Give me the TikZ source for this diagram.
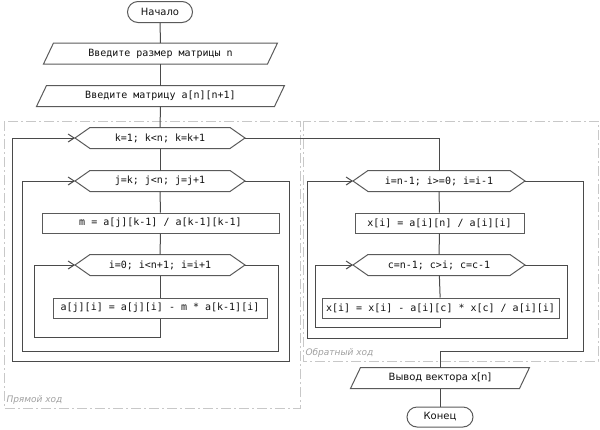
\documentclass[tikz,border=0pt]{standalone}
\usepackage{fontspec}
\setmainfont{DejaVu Sans}
\newfontfamily\codefont{DejaVu Sans Mono}
\usetikzlibrary{shapes.misc,arrows.meta}
\definecolor{linec}{HTML}{4A4A4A}
\definecolor{boxc}{HTML}{5A5A5A}
\definecolor{regc}{HTML}{C8C8C8}
\definecolor{labc}{HTML}{A0A0A0}
\definecolor{txtc}{HTML}{101010}
\begin{document}
\begin{tikzpicture}[x=1pt,y=-1pt,line width=1pt,
  codebox/.style={draw=boxc, minimum height=20pt, inner sep=0pt, text=txtc,
     font=\codefont\fontsize{10}{12}\selectfont},
  shapeonly/.style={minimum height=20pt, inner sep=0pt, text=txtc,
     font=\codefont\fontsize{10}{12}\selectfont},
  term/.style={draw=boxc, rounded rectangle, minimum height=21pt, inner sep=0pt,
     text=txtc, font=\fontsize{10}{12}\selectfont},
  outline/.style={draw=boxc},
  flow/.style={draw=linec},
  loopback/.style={draw=linec, -{Straight Barb[length=6pt,width=8pt]}},
  region/.style={draw=regc, line width=0.8pt, dash pattern=on 10pt off 3pt on 2pt off 3pt},
  reglabel/.style={text=labc, font=\itshape\fontsize{9}{11}\selectfont, inner sep=0pt, anchor=west}
]
\useasboundingbox (0,0) rectangle (600,429);

% regions
\draw[region] (4,121) rectangle (300,408);
\draw[region] (303,121) rectangle (598,361);
\node[reglabel] (lab1) at (6,400) {Прямой ход};
\node[reglabel] (lab2) at (305,353) {Обратный ход};

% nodes
\node[term, minimum width=65pt] (start) at (160,12) {Начало};
\node[shapeonly, minimum width=233pt] (in1) at (160.5,53.5) {Введите размер матрицы n};
\node[shapeonly, minimum width=247pt] (in2) at (160.5,96) {Введите матрицу a[n][n+1]};

\node[shapeonly, minimum width=169pt] (kloop) at (160,138) {k=1; k<n; k=k+1};
\node[shapeonly, minimum width=169pt] (jloop) at (160,181) {j=k; j<n; j=j+1};
\node[codebox, minimum width=237pt] (mbox) at (160.5,223) {m = a[j][k-1] / a[k-1][k-1]};
\node[shapeonly, minimum width=169pt] (iloop) at (160,265) {i=0; i<n+1; i=i+1};
\node[codebox, minimum width=214pt] (abox) at (160,308) {a[j][i] = a[j][i] - m * a[k-1][i]};

\node[shapeonly, minimum width=171pt] (rloop) at (439,181) {i=n-1; i>=0; i=i-1};
\node[codebox, minimum width=169pt] (xbox) at (439.5,223) {x[i] = a[i][n] / a[i][i]};
\node[shapeonly, minimum width=171pt] (cloop) at (439,265) {c=n-1; c>i; c=c-1};
\node[codebox, minimum width=237pt] (x2box) at (440.5,308) {x[i] = x[i] - a[i][c] * x[c] / a[i][i]};

\node[shapeonly, minimum width=178pt, font=\fontsize{10}{12}\selectfont] (out) at (440,378) {Вывод вектора x[n]};
\node[term, minimum width=66pt, minimum height=20pt] (end) at (440,417) {Конец};

% parallelogram outlines
\foreach \p in {in1,in2,out}{
  \draw[outline] ([xshift=10pt]\p.north west) -- (\p.north east) -- ([xshift=-10pt]\p.south east) -- (\p.south west) -- cycle;
}
% hexagon outlines
\foreach \h in {kloop,jloop,iloop,rloop,cloop}{
  \draw[outline] (\h.west) -- ([xshift=15pt]\h.north west) -- ([xshift=-15pt]\h.north east) -- (\h.east) -- ([xshift=-15pt]\h.south east) -- ([xshift=15pt]\h.south west) -- cycle;
}

% straight connectors
\draw[flow] (start) -- (in1);
\draw[flow] (in1) -- (in2);
\draw[flow] (in2) -- (kloop);
\draw[flow] (kloop) -- (jloop);
\draw[flow] (jloop) -- (mbox);
\draw[flow] (mbox) -- (iloop);
\draw[flow] (iloop) -- (abox);
\draw[flow] (rloop) -- (xbox);
\draw[flow] (xbox) -- (cloop);
\draw[flow] (cloop) -- (x2box);
\draw[flow] (out) -- (end);

% loop backs
\draw[loopback] (abox.south) |- (34,337) |- (iloop.west);
\draw[loopback] (iloop.east) -| (278,351) -- (22,351) |- (jloop.west);
\draw[loopback] (jloop.east) -| (289,361) -- (12,361) |- (kloop.west);
\draw[flow] (kloop.east) -| (rloop.north);

\draw[loopback] (x2box.south) |- (315,327) |- (cloop.west);
\draw[loopback] (cloop.east) -| (567,338) -- (307,338) |- (rloop.west);
\draw[flow] (rloop.east) -| (583,351) -| (out.north);
\end{tikzpicture}
\end{document}
